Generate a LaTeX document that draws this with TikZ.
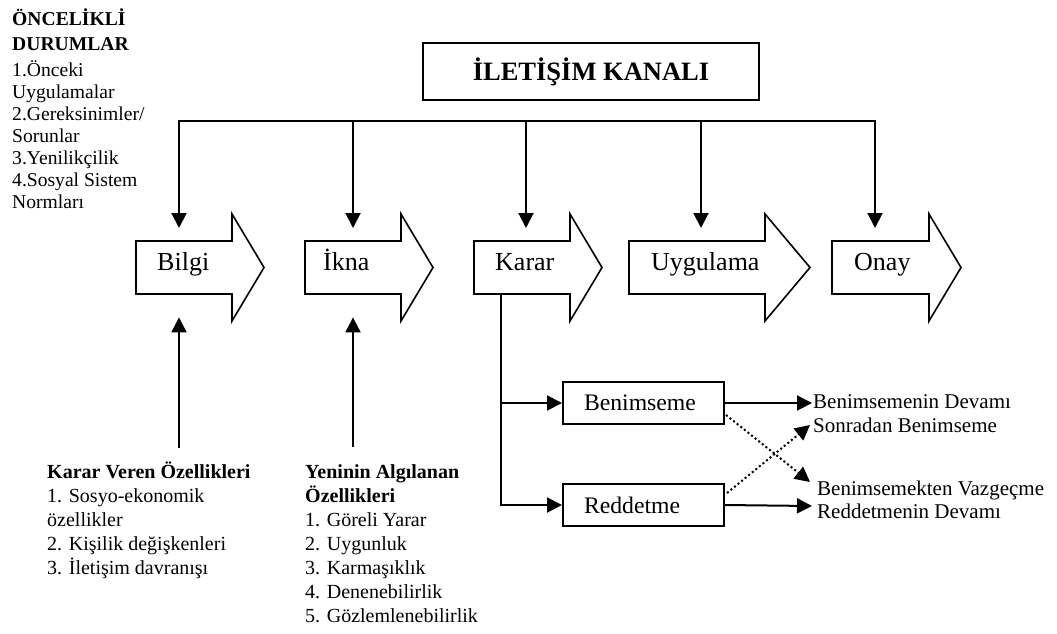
\documentclass[tikz,border=0pt]{standalone}
\usepackage{fontspec}
\setmainfont{Liberation Serif}
\usetikzlibrary{arrows.meta,calc}

\newcommand\setfs[2]{\fontsize{#1}{#2}\selectfont}

\tikzset{
  conn/.style={line width=2pt, -{Triangle[width=15pt,length=15pt]}},
  plain/.style={line width=2pt},
  dotconn/.style={line width=2pt, dash pattern=on 2pt off 2.6pt, -{Triangle[width=15pt,length=15pt]}},
  titlebox/.style={draw, line width=2pt, minimum width=336pt, minimum height=57pt, inner sep=0pt,
    font=\setfs{26.5}{30}\bfseries},
  decbox/.style={draw, line width=2pt, minimum height=42pt, inner xsep=21pt, inner ysep=0pt,
    text width=119pt, align=left, font=\setfs{23.7}{28}},
  outline/.style={line width=1.6pt, line join=miter},
  stagebody/.style={draw=none, minimum height=53pt, inner sep=0pt},
  stagelbl/.style={anchor=base west, inner sep=0pt, font=\setfs{26}{30}},
  rtxt/.style={anchor=base west, inner sep=0pt, font=\setfs{21}{24}},
  ltxt/.style={anchor=base west, inner sep=0pt, font=\setfs{19.6}{22}},
  btxt/.style={anchor=base west, inner sep=0pt, font=\setfs{20}{24}},
}

% one stage of the process: block arrow outline, its body node and its label
% #1 name, #2 left edge, #3 start of head, #4 tip, #5 label, #6 label x
\newcommand\stagearrow[6]{%
  \draw[outline] (#2,241) -- (#3,241) -- (#3,214) -- (#4,267.5) -- (#3,321)
    -- (#3,294) -- (#2,294) -- cycle;
  \node[stagebody, anchor=north west, minimum width={#3-#2}] (#1) at (#2,241) {};
  \node[stagelbl] (#1-lbl) at (#6,270) {#5};
}

\begin{document}
\begin{tikzpicture}[x=1pt,y=-1pt]
\useasboundingbox (0,0) rectangle (1057,633);

% antecedents
\foreach \yy/\tt [count=\i] in {25/{\textbf{ÖNCELİKLİ}}, 50/{\textbf{DURUMLAR}},
    76/{1.Önceki}, 98/{Uygulamalar}, 120/{2.Gereksinimler/}, 142/{Sorunlar},
    164/{3.Yenilikçilik}, 186/{4.Sosyal Sistem}, 208/{Normları}}
  \node[ltxt] (pre\i) at (12,\yy) {\tt};

% communication channel
\node[titlebox] (title) at (591,71.5) {İLETİŞİM KANALI};

% stages
\stagearrow{bilgi}{136}{232}{264}{Bilgi}{157}
\stagearrow{ikna}{305}{401}{433}{İkna}{323}
\stagearrow{karar}{474}{570}{602}{Karar}{495}
\stagearrow{uygulama}{629}{765}{810}{Uygulama}{651}
\stagearrow{onay}{832}{929}{961}{Onay}{854}

% channel bus feeding every stage
\coordinate (d1) at (179,121);
\coordinate (d2) at (353,121);
\coordinate (d3) at (526,121);
\coordinate (d4) at (701,121);
\coordinate (d5) at (875,121);
\draw[plain, line cap=rect] (d1) -- (d5);
\draw[conn, shorten >=13pt] (d1) -- (d1 |- bilgi.north);
\draw[conn, shorten >=13pt] (d2) -- (d2 |- ikna.north);
\draw[conn, shorten >=13pt] (d3) -- (d3 |- karar.north);
\draw[conn, shorten >=13pt] (d4) -- (d4 |- uygulama.north);
\draw[conn, shorten >=13pt] (d5) -- (d5 |- onay.north);

% characteristics feeding knowledge and persuasion
\coordinate (u1) at (179,448);
\coordinate (u2) at (353,447);
\draw[conn, shorten >=23pt] (u1) -- (u1 |- bilgi.south);
\draw[conn, shorten >=23pt] (u2) -- (u2 |- ikna.south);

\foreach \yy/\tt [count=\i] in {478/{\textbf{Karar Veren Özellikleri}}, 502/{1. Sosyo-ekonomik},
    526/{özellikler}, 550/{2. Kişilik değişkenleri}, 574/{3. İletişim davranışı}}
  \node[btxt] (dm\i) at (47,\yy) {\tt};

\foreach \yy/\tt [count=\i] in {478/{\textbf{Yeninin Algılanan}}, 502/{\textbf{Özellikleri}},
    526/{1. Göreli Yarar}, 550/{2. Uygunluk}, 574/{3. Karmaşıklık},
    598/{4. Denenebilirlik}, 622/{5. Gözlemlenebilirlik}}
  \node[btxt] (pc\i) at (305,\yy) {\tt};

% decision branches
\node[decbox] (benim) at (643.5,403) {Benimseme};
\node[decbox] (redd) at (643.5,505) {Reddetme};
\coordinate (kx) at (501,0);
\draw[conn] (karar.south -| kx) |- (redd.west);
\draw[conn] (kx |- benim.west) -- (benim.west);

% outcomes
\coordinate (r1) at (812,403);
\coordinate (r2) at (812,506);
\coordinate (r3) at (810,482);
\coordinate (r4) at (810,425);
\draw[conn] (benim.east) -- (r1);
\draw[conn] (redd.east) -- (r2);
\draw[dotconn] ($(benim.east)+(1,12)$) -- (r3);
\draw[dotconn] ($(redd.east)+(2,-12)$) -- (r4);

\node[rtxt] (o1) at (813,408) {Benimsemenin Devamı};
\node[rtxt] (o2) at (813,432) {Sonradan Benimseme};
\node[rtxt] (o3) at (817,495) {Benimsemekten Vazgeçme};
\node[rtxt] (o4) at (817,518) {Reddetmenin Devamı};
\end{tikzpicture}
\end{document}
